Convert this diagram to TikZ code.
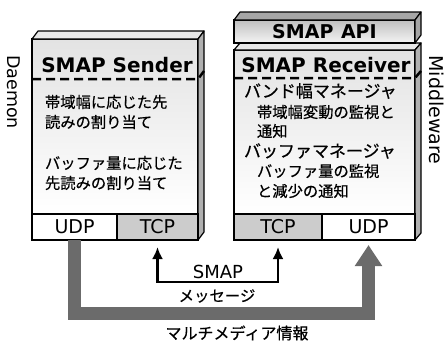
\documentclass[tikz,border=0pt]{standalone}
\usepackage{fontspec}
\setmainfont{DejaVu Sans}
\newfontfamily\jpfont[FakeBold=0.5]{Noto Sans CJK JP}
\usepackage{tikz}
\usetikzlibrary{positioning, arrows.meta, calc}

\begin{document}
\begin{tikzpicture}[
    x=1pt, y=-1pt,
    every node/.style={inner sep=0pt, outer sep=0pt},
    face/.style={draw, line width=1.4pt, anchor=north west, top color=gray!22, bottom color=white},
    topface/.style={draw, line width=1.2pt, line join=round, fill=gray!18},
    sideface/.style={draw, line width=1.2pt, line join=round, fill=gray!62},
    cell/.style={draw, line width=1.4pt, anchor=north west, minimum height=26pt, font=\fontsize{19}{19}\selectfont},
    title/.style={font=\fontsize{20}{20}\selectfont\bfseries},
    sep/.style={line width=2.5pt, dash pattern=on 9pt off 5pt},
    jp/.style={anchor=west, font=\jpfont\fontsize{15.3}{16}\selectfont},
    jphead/.style={anchor=west, font=\jpfont\fontsize{17}{18}\selectfont},
    msg/.style={{Latex[length=12pt,width=11pt]}-{Latex[length=12pt,width=11pt]}, line width=2.6pt},
    band/.style={-{Triangle[length=21pt,width=26pt]}, line width=13pt, black!58, line join=miter}
]
\useasboundingbox (0,0) rectangle (448,343);

% sender side
\node[face, minimum width=166pt, minimum height=175pt] (sender) at (32,39) {};
\filldraw[topface] (sender.north west) -- ++(6,-8) -- ++(166,0) -- (sender.north east) -- cycle;
\filldraw[sideface] (sender.north east) -- ++(6,-8) -- ++(0,201) -- ++(-6,8) -- cycle;
\node[cell, fill=white, minimum width=85pt] (udpS) at (sender.south west) {UDP};
\node[cell, fill=gray!40, minimum width=81pt] (tcpS) at (udpS.north east) {TCP};
\node[title] (sendTitle) at (117,65) {SMAP\hspace{0.35em}Sender};
\draw[sep] (32,79) -- (198,79) -- (204,71);
\node[jp] (sendA1) at (45,102) {帯域幅に応じた先};
\node[jp] (sendA2) at (45,122) {読みの割り当て};
\node[jp] (sendB1) at (45,163) {バッファ量に応じた};
\node[jp] (sendB2) at (45,183) {先読みの割り当て};
\node[rotate=-90, font=\fontsize{17.5}{18}\selectfont] (daemon) at (14,92) {Daemon};

% receiver side
\node[face, minimum width=181pt, minimum height=164pt] (receiver) at (234,50) {};
\filldraw[topface] (receiver.north west) -- ++(6,-7) -- ++(181,0) -- (receiver.north east) -- cycle;
\filldraw[sideface] (receiver.north east) -- ++(6,-7) -- ++(0,190) -- ++(-6,7) -- cycle;
\node[draw, line width=1.4pt, anchor=north west, minimum width=181pt, minimum height=23pt,
      top color=gray!50, bottom color=gray!8, font=\fontsize{19}{19}\selectfont\bfseries] (api) at (234,20) {SMAP\hspace{0.4em}API};
\filldraw[sideface, fill=gray!70] (api.north west) -- ++(6,-8) -- ++(181,0) -- (api.north east) -- cycle;
\filldraw[sideface, fill=gray!70] (api.north east) -- ++(6,-8) -- ++(0,23) -- ++(-6,8) -- cycle;
\node[cell, fill=gray!40, minimum width=88pt] (tcpR) at (receiver.south west) {TCP};
\node[cell, fill=white, minimum width=93pt] (udpR) at (tcpR.north east) {UDP};
\node[title] (recvTitle) at (326,65) {SMAP\hspace{0.35em}Receiver};
\draw[sep] (234,78) -- (415,78) -- (421,71);
\node[jphead] (bwMgr) at (244,91) {バンド幅マネージャ};
\node[jp] (bwA) at (257,112) {帯域幅変動の監視と};
\node[jp] (bwB) at (257,131) {通知};
\node[jphead] (bufMgr) at (244,151) {バッファマネージャ};
\node[jp] (bufA) at (257,171) {バッファ量の監視};
\node[jp] (bufB) at (257,191) {と減少の通知};
\node[rotate=-90, font=\fontsize{19}{19}\selectfont] (middleware) at (437,110) {Middleware};

% flows between the two sides
\draw[band] (udpS.south) -- ++(0,73) -| ([yshift=-5pt]udpR.south);
\draw[msg] ([yshift=-7pt]tcpS.south) -- ++(0,35) -| ([yshift=-7pt]tcpR.south);
\node[font=\fontsize{18}{18}\selectfont] (msgTop) at (218,272) {SMAP};
\node[font=\jpfont\fontsize{15.4}{16}\selectfont] (msgBot) at (217,296) {メッセージ};
\node[font=\jpfont\fontsize{16}{17}\selectfont] (mmLabel) at (237,333) {マルチメディア情報};

\end{tikzpicture}
\end{document}
